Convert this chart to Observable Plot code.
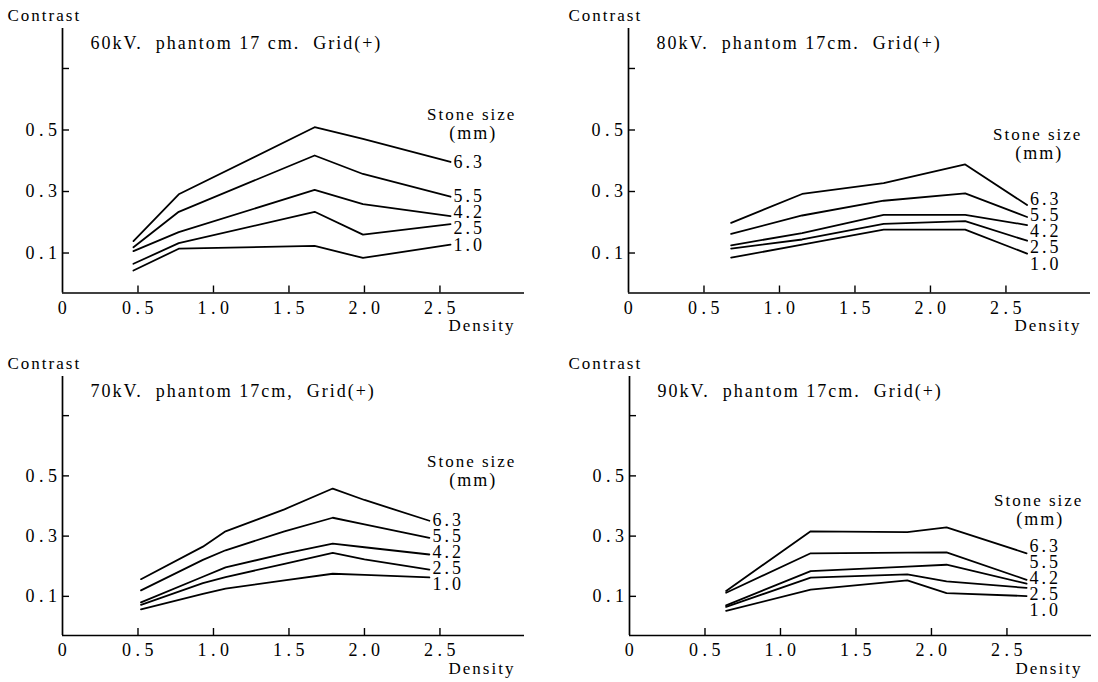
<!DOCTYPE html>
<html>
<head>
<meta charset="utf-8">
<script src="https://cdn.jsdelivr.net/npm/d3@7"></script>
<script src="https://cdn.jsdelivr.net/npm/@observablehq/plot@0.6"></script>
<style>
  html, body { margin: 0; padding: 0; background: #fff; }
  #root { position: relative; width: 1098px; height: 682px; overflow: hidden; }
  .panel { position: absolute; }
</style>
</head>
<body>
<div id="root"></div>
<script>
// ---- data ----
const sizes = ["6.3", "5.5", "4.2", "2.5", "1.0"];
const xTicks = [0, 0.5, 1.0, 1.5, 2.0, 2.5];
const yTicks = [0.1, 0.3, 0.5];
const yBlankTicks = [0.7];

const titles = [
  "60kV.\u00a0\u00a0phantom 17\u00a0cm.\u00a0\u00a0Grid(+)",
  "80kV.\u00a0\u00a0phantom 17cm.\u00a0\u00a0Grid(+)",
  "70kV.\u00a0\u00a0phantom 17cm,\u00a0\u00a0Grid(+)",
  "90kV.\u00a0\u00a0phantom 17cm.\u00a0\u00a0Grid(+)"
];

// 60 kV
const density60 = [0.47, 0.77, 1.67, 1.99, 2.57];
const contrast60 = [
  [0.139, 0.291, 0.509, 0.471, 0.396],
  [0.119, 0.234, 0.417, 0.357, 0.283],
  [0.106, 0.168, 0.305, 0.259, 0.220],
  [0.065, 0.132, 0.234, 0.160, 0.194],
  [0.043, 0.114, 0.123, 0.084, 0.127]
];
// 80 kV
const density80 = [0.68, 1.15, 1.69, 2.23, 2.64];
const contrast80 = [
  [0.198, 0.292, 0.327, 0.388, 0.256],
  [0.162, 0.222, 0.270, 0.294, 0.217],
  [0.125, 0.165, 0.224, 0.224, 0.191],
  [0.114, 0.144, 0.195, 0.204, 0.140],
  [0.085, 0.127, 0.176, 0.176, 0.098]
];
// 70 kV
const density70 = [0.52, 0.93, 1.08, 1.47, 1.79, 2.0, 2.43];
const contrast70 = [
  [0.157, 0.265, 0.316, 0.389, 0.458, 0.420, 0.351],
  [0.120, 0.221, 0.253, 0.316, 0.361, 0.339, 0.294],
  [0.080, 0.165, 0.196, 0.242, 0.275, 0.263, 0.239],
  [0.072, 0.144, 0.164, 0.208, 0.244, 0.223, 0.189],
  [0.057, 0.108, 0.126, 0.153, 0.175, 0.171, 0.163]
];
// 90 kV
const density90 = [0.64, 1.2, 1.84, 2.1, 2.63];
const contrast90 = [
  [0.118, 0.316, 0.313, 0.329, 0.243],
  [0.112, 0.243, 0.245, 0.246, 0.155],
  [0.070, 0.184, 0.199, 0.205, 0.142],
  [0.065, 0.162, 0.173, 0.150, 0.128],
  [0.052, 0.122, 0.153, 0.111, 0.101]
];

// ---- layout (not data) ----
const panels = [
  {title: titles[0], density: density60, contrast: contrast60, left: 0,   top: 0,   height: 341, plotH: 264.5, marginLeft: 62, legendY: 0.55,  labelShift: 0},
  {title: titles[1], density: density80, contrast: contrast80, left: 549, top: 0,   height: 341, plotH: 264.5, marginLeft: 79, legendY: 0.485, labelShift: -0.01},
  {title: titles[2], density: density70, contrast: contrast70, left: 0,   top: 348, height: 334, plotH: 259,   marginLeft: 62, legendY: 0.548, labelShift: 0},
  {title: titles[3], density: density90, contrast: contrast90, left: 549, top: 348, height: 334, plotH: 259,   marginLeft: 80, legendY: 0.418, labelShift: 0.006}
];

const X_MAX = 3.06, Y_MIN = -0.03, Y_MAX = 0.83;
const PLOT_W = 462, MARGIN_TOP = 28;
const FONT = "'Liberation Serif', 'DejaVu Serif', serif";

function dodge(ends, gap) {
  const idx = ends.map((v, i) => i).sort((a, b) => ends[b] - ends[a]);
  const clusters = [];
  for (const i of idx) {
    clusters.push({members: [i], sum: ends[i]});
    while (clusters.length > 1) {
      const b = clusters[clusters.length - 1], a = clusters[clusters.length - 2];
      const aBottom = a.sum / a.members.length - (a.members.length - 1) / 2 * gap;
      const bTop = b.sum / b.members.length + (b.members.length - 1) / 2 * gap;
      if (aBottom - bTop < gap) { a.members.push(...b.members); a.sum += b.sum; clusters.pop(); }
      else break;
    }
  }
  const pos = [];
  for (const c of clusters) {
    const m = c.sum / c.members.length;
    c.members.forEach((i, k) => pos[i] = m + ((c.members.length - 1) / 2 - k) * gap);
  }
  return pos;
}

const root = document.getElementById("root");

for (const p of panels) {
  const rows = [];
  sizes.forEach((s, si) => p.density.forEach((d, di) => rows.push({size: s, x: d, y: p.contrast[si][di]})));
  const ends = sizes.map((s, si) => p.contrast[si][p.contrast[si].length - 1]);
  const labelY = dodge(ends, 0.053);
  const labels = sizes.map((s, si) => ({size: s, x: p.density[p.density.length - 1], y: labelY[si] + p.labelShift}));

  const width = 549;
  const marginBottom = p.height - MARGIN_TOP - p.plotH;
  const marginRight = width - p.marginLeft - PLOT_W;
  const yTickLen = 7 / PLOT_W * X_MAX;
  const xTickLen = 7 / p.plotH * (Y_MAX - Y_MIN);

  const chart = Plot.plot({
    width, height: p.height,
    marginLeft: p.marginLeft, marginRight, marginTop: MARGIN_TOP, marginBottom,
    x: {domain: [0, X_MAX]},
    y: {domain: [Y_MIN, Y_MAX]},
    style: {fontFamily: FONT, fontSize: "17px", color: "#000", background: "#fff", overflow: "visible"},
    marks: [
      // axis lines
      Plot.ruleX([0], {y1: Y_MIN, y2: Y_MAX, stroke: "#000", strokeWidth: 1.7}),
      Plot.ruleY([Y_MIN], {x1: 0, x2: X_MAX, stroke: "#000", strokeWidth: 1.7}),
      // inward ticks
      Plot.ruleY(yTicks.concat(yBlankTicks), {y: d => d, x1: 0, x2: yTickLen, stroke: "#000", strokeWidth: 1.4}),
      Plot.ruleX(xTicks.filter(d => d > 0), {x: d => d, y1: Y_MIN, y2: Y_MIN + xTickLen, stroke: "#000", strokeWidth: 1.4}),
      // tick labels
      Plot.axisX({ticks: xTicks, tickSize: 0, tickPadding: 8, label: null,
        tickFormat: d => d === 0 ? "0" : d.toFixed(1), fontSize: 18, dx: 2}),
      Plot.axisY({ticks: yTicks, tickSize: 0, tickPadding: 1, label: null,
        tickFormat: d => d.toFixed(1), fontSize: 18}),
      // series lines
      Plot.line(rows, {x: "x", y: "y", z: "size", stroke: "#000", strokeWidth: 1.8}),
      // series labels
      Plot.text(labels, {x: "x", y: "y", text: "size", textAnchor: "start", dx: 3, fontSize: 18}),
      // legend title
      Plot.text(["Stone size"], {x: 2.71, y: p.legendY, text: d => d, fontSize: 17}),
      Plot.text(["(mm)"], {x: 2.72, y: p.legendY - 0.062, text: d => d, fontSize: 18}),
      // panel title
      Plot.text([p.title], {frameAnchor: "top-left", text: d => d, textAnchor: "start", lineAnchor: "middle",
        dx: 28, dy: 15, fontSize: 18}),
      // y axis name
      Plot.text(["Contrast"], {frameAnchor: "top-left", text: d => d, textAnchor: "start", lineAnchor: "middle",
        dx: (p.left === 0 ? 7 : 19) - p.marginLeft, dy: -13, fontSize: 17}),
      // x axis name
      Plot.text(["Density"], {x: 3.0, frameAnchor: "bottom", text: d => d, textAnchor: "end", lineAnchor: "middle",
        dy: 33, fontSize: 17})
    ]
  });
  chart.style.letterSpacing = "2px";
  chart.querySelectorAll('[aria-label="x-axis tick label"], [aria-label="y-axis tick label"]')
    .forEach(g => g.style.letterSpacing = "4.5px");
  chart.querySelectorAll('text').forEach(t => {
    if (/^\d\.\d$/.test(t.textContent) && t.closest('[aria-label="text"]')) t.style.letterSpacing = "3px";
  });
  const div = document.createElement("div");
  div.className = "panel";
  div.style.left = p.left + "px";
  div.style.top = p.top + "px";
  div.appendChild(chart);
  root.appendChild(div);
}
</script>
</body>
</html>
